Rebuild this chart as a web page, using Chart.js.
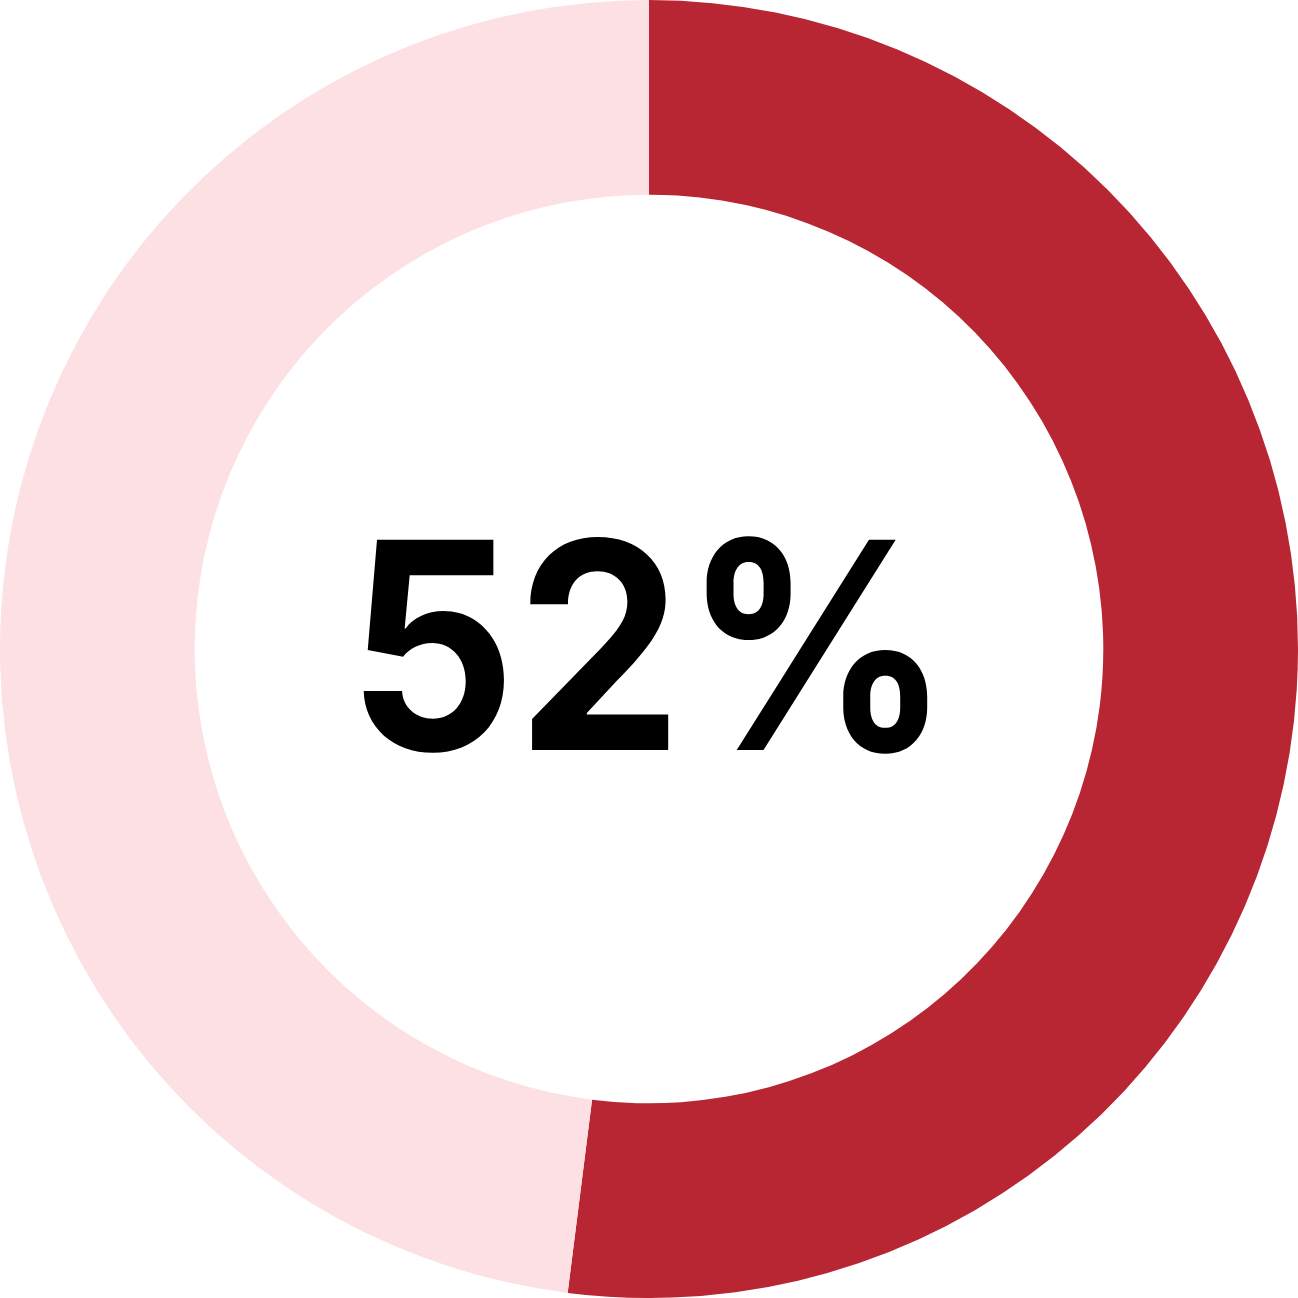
<!DOCTYPE html>
<html>
<head>
<meta charset="utf-8">
<script src="https://cdn.jsdelivr.net/npm/chart.js@4/dist/chart.umd.min.js"></script>
<style>
  html, body { margin:0; padding:0; background:#fff; }
  #wrap { position:relative; width:1298px; height:1298px; }
  #lbl { position:absolute; left:0; top:-4px; width:1298px; height:1298px; display:flex; align-items:center; justify-content:center;
         font-family:Inter, sans-serif; font-weight:700; font-size:289px; color:#000; pointer-events:none; }
  #lbl span { display:inline-block; transform:scaleX(0.915); }
</style>
</head>
<body>
<div id="wrap">
  <canvas id="c" width="1298" height="1298"></canvas>
  <div id="lbl"><span id="txt"></span></div>
</div>
<script>
const labels = ['Yes', 'Rest']
const values = [52, 48]
const colors = ['#B82533', '#FDE0E3']

document.getElementById('txt').textContent = values[0] + '%'

new Chart(document.getElementById('c'), {
	type: 'doughnut',
	data: {
		labels: labels,
		datasets: [{
			data: values,
			backgroundColor: colors,
			borderWidth: 0,
		}]
	},
	options: {
		responsive: false,
		animation: false,
		cutout: '70%',
		layout: { padding: 0 },
		plugins: {
			legend: { display: false },
			tooltip: { enabled: false }
		}
	}
})
</script>
</body>
</html>
